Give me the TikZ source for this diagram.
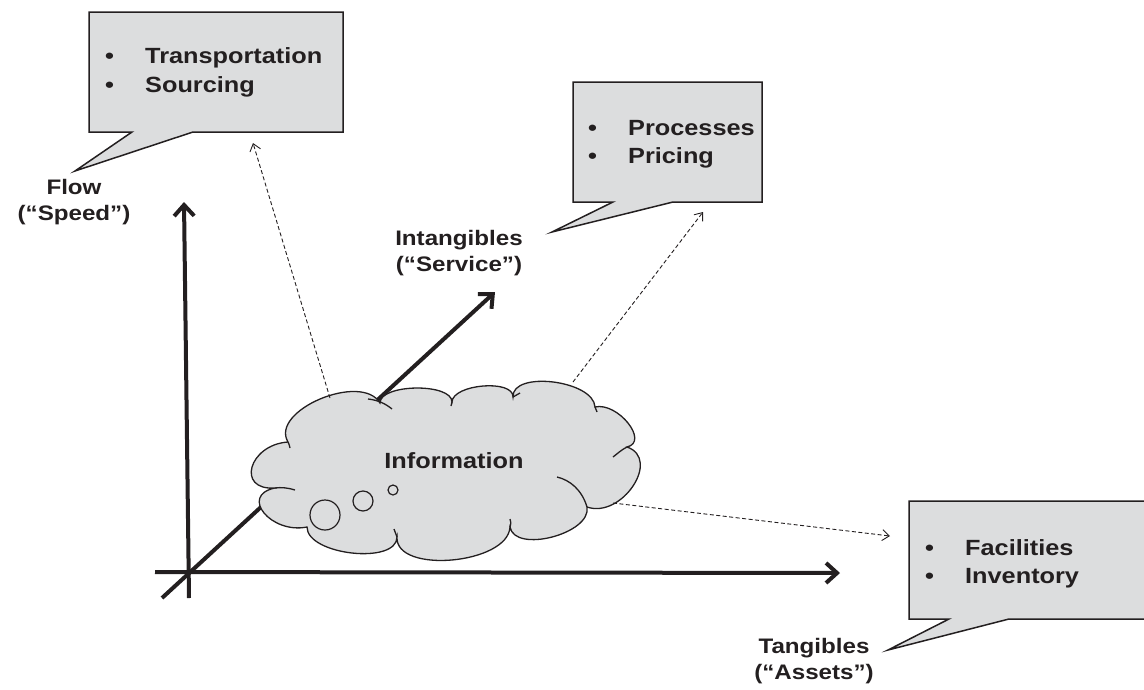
\documentclass[tikz,border=0pt]{standalone}
\usepackage{fontspec}
\setmainfont{Liberation Sans}[FakeStretch=1.15]
\usetikzlibrary{arrows.meta}
\definecolor{ink}{HTML}{231F20}
\definecolor{bubblegray}{HTML}{DCDDDE}
\tikzset{
  bubble/.style={fill=bubblegray,draw=ink,line width=1.5pt,line join=miter},
  cloudline/.style={draw=ink,line width=1.3pt},
  axisline/.style={draw=ink,line width=4pt,-{Straight Barb[length=11pt,width=20pt]}},
  linkline/.style={draw=ink,line width=0.9pt,dash pattern=on 4pt off 2.5pt,-{Straight Barb[length=7pt,width=11pt]}},
  listitem/.style={anchor=base west,inner sep=0pt,text=ink,font=\fontsize{22}{26}\selectfont\bfseries},
  axlabel/.style={anchor=north,inner sep=0pt,align=center,text=ink,font=\fontsize{21}{26}\selectfont\bfseries},
  thought/.style={circle,draw=ink,line width=1.2pt,inner sep=0pt}
}
\newcommand{\bul}{\makebox[40pt][l]{•}}
\begin{document}
\begin{tikzpicture}[x=1pt,y=-1pt]
  \clip (0,0) rectangle (1144,689);
  % axes
  \coordinate (vlow) at (189,598);
  \coordinate (vtip) at (184,202);
  \coordinate (hlow) at (155,572);
  \coordinate (htip) at (840,573);
  \coordinate (dlow) at (162,598);
  \coordinate (dtip) at (495,292);
  \draw[axisline] (vlow) -- (vtip);
  \draw[axisline] (hlow) -- (htip);
  \draw[axisline] (dlow) -- (dtip);

  % callouts
  \filldraw[bubble] (89,12) -- (343,12) -- (343,132) -- (193,132) -- (75,171)
    -- (132,132) -- (89,132) -- cycle;
  \filldraw[bubble] (573,82) -- (762,82) -- (762,202) -- (673,202) -- (552,232)
    -- (613,202) -- (573,202) -- cycle;
  \filldraw[bubble] (909,501) -- (1150,501) -- (1150,619) -- (1009,619) -- (888,650)
    -- (949,619) -- (909,619) -- cycle;
  \node[listitem] (transp) at (105,63) {\bul Transportation};
  \node[listitem] (sourc) at (105,92) {\bul Sourcing};
  \node[listitem] (proc) at (588,135) {\bul Processes};
  \node[listitem] (pric) at (588,163) {\bul Pricing};
  \node[listitem] (facil) at (925,555) {\bul Facilities};
  \node[listitem] (invent) at (925,583) {\bul Inventory};

  % axis names
  \node[axlabel] (flowlbl) at (74,179) {Flow\\(“Speed”)};
  \node[axlabel] (intlbl) at (459,230) {Intangibles\\(“Service”)};
  \node[axlabel] (tanlbl) at (814,638) {Tangibles\\(“Assets”)};

  % information cloud
  \filldraw[cloudline,fill=bubblegray] (380,403)
    .. controls (361.3,371.7) and (269.3,410.7) .. (288,442)
    .. controls (248.7,444.7) and (235.7,490.7) .. (275,488)
    .. controls (239,495.3) and (271,534.3) .. (307,527)
    .. controls (307,555) and (397,565) .. (397,537)
    .. controls (395,574.3) and (508,564.3) .. (510,527)
    .. controls (514.7,553.7) and (591.7,533.7) .. (587,507)
    .. controls (621.7,519) and (661.7,459) .. (627,447)
    .. controls (649.7,441.7) and (617.7,401.7) .. (595,407)
    .. controls (593.7,380.3) and (511.7,370.3) .. (513,397)
    .. controls (513.7,379) and (452.7,384) .. (452,402)
    .. controls (452,382.7) and (380,383.7) .. (380,403) -- cycle;
  \draw[cloudline] (368,399) .. controls (378,400) and (386,404) .. (392,409);
  \draw[cloudline] (288,442) .. controls (289,444) .. (290,448);
  \draw[cloudline] (275,488) .. controls (281,487) and (289,488) .. (295,490);
  \draw[cloudline] (397,537) .. controls (396,533) .. (394,529);
  \draw[cloudline] (510,527) .. controls (511,523) .. (510,519);
  \draw[cloudline] (557,477) .. controls (570,480) and (582,490) .. (587,507);
  \draw[cloudline] (627,447) .. controls (621,450) and (617,454) .. (613,457);
  \draw[cloudline] (595,407) .. controls (596,409) .. (597,412);
  \draw[cloudline] (513,397) .. controls (516,395) .. (520,393);
  \draw[cloudline] (452,402) .. controls (452,404) .. (451,406);
  \node[text=ink,inner sep=0pt,font=\fontsize{22}{26}\selectfont\bfseries] (info) at (454,461) {Information};
  \node[thought,minimum size=30pt] (big) at (325,515) {};
  \node[thought,minimum size=20pt] (mid) at (363,501) {};
  \node[thought,minimum size=10pt] (small) at (393,490) {};

  % links to the callouts
  \coordinate (out1) at (330,398);
  \coordinate (out2) at (573,382);
  \coordinate (out3) at (613,503);
  \coordinate (tip1) at (253,143);
  \coordinate (tip2) at (703,212);
  \coordinate (tip3) at (890,536);
  \draw[linkline] (out1) -- (tip1);
  \draw[linkline] (out2) -- (tip2);
  \draw[linkline] (out3) -- (tip3);
\end{tikzpicture}
\end{document}
